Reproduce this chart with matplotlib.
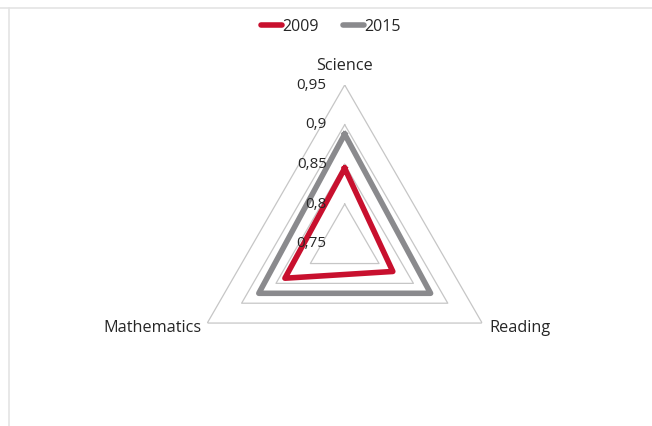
import numpy as np
import matplotlib.pyplot as plt
from matplotlib.lines import Line2D

plt.rcParams['font.family'] = ['Open Sans', 'DejaVu Sans']

categories = ['Science', 'Reading', 'Mathematics']
years = ['2009', '2015']
values_2009 = [0.845, 0.82, 0.837]
values_2015 = [0.888, 0.875, 0.875]
ring_levels = [0.75, 0.8, 0.85, 0.9, 0.95]
ring_labels = ['0,75', '0,8', '0,85', '0,9', '0,95']

red = '#c8102e'
grey = '#8a8a8d'
grid_col = '#c6c6c6'
text_col = '#262626'

W, H = 652, 426
fig = plt.figure(figsize=(W / 100, H / 100), dpi=100)

# faint chart border (top and left edges)
fig.add_artist(Line2D([0, 1], [1 - 7.5 / H] * 2, transform=fig.transFigure,
                      color='#e4e4e4', lw=1.2))
fig.add_artist(Line2D([9 / W] * 2, [0, 1 - 7.5 / H], transform=fig.transFigure,
                      color='#e4e4e4', lw=1.2))

# polar axes sized so the 0.95 ring reaches ~159 px from the centre
cx, cy, R = 344.7, 243.7, 158.7
ax = fig.add_axes([(cx - R) / W, (H - cy - R) / H, 2 * R / W, 2 * R / H],
                  projection='polar')
ax.set_theta_offset(np.pi / 2)
ax.set_theta_direction(-1)
ax.set_ylim(0.75, 0.95)
ax.grid(False)
ax.spines['polar'].set_visible(False)
ax.set_xticks([])
ax.set_yticks([])
ax.patch.set_alpha(0)

angles = np.linspace(0, 2 * np.pi, len(categories), endpoint=False)
closed = np.append(angles, angles[0])

# triangular gridlines
for lev in ring_levels[1:]:
    ax.plot(closed, [lev] * len(closed), color=grid_col, lw=0.9, zorder=1)

def close(v):
    return list(v) + [v[0]]

ax.plot(closed, close(values_2015), color=grey, lw=4.0,
        solid_joinstyle='round', zorder=3)
ax.plot(closed, close(values_2009), color=red, lw=4.0,
        solid_joinstyle='round', zorder=4)

# radial value labels along the Science axis
for lev, lab in zip(ring_levels, ring_labels):
    ax.annotate(lab, (0, lev), xytext=(-18, 0), textcoords='offset pixels',
                ha='right', va='center', fontsize=11, color=text_col,
                zorder=5, annotation_clip=False)

# category labels
offsets = [((0, 19.5), 'center'), ((7, -4.7), 'left'), ((-6, -4.7), 'right')]
for ang, cat, (off, ha) in zip(angles, categories, offsets):
    ax.annotate(cat, (ang, 0.95), xytext=off, textcoords='offset pixels',
                ha=ha, va='center', fontsize=11.7, color=text_col,
                annotation_clip=False)

handles = [Line2D([], [], color=red, lw=4.0, solid_capstyle='round'),
           Line2D([], [], color=grey, lw=4.0, solid_capstyle='round')]
fig.legend(handles, years, loc='center', bbox_to_anchor=(331 / W, 1 - 27 / H),
           ncol=2, frameon=False, fontsize=11.5, handlelength=1.3,
           handletextpad=0.05, columnspacing=1.5, labelcolor=text_col)

fig.savefig('out.png', dpi=100)
